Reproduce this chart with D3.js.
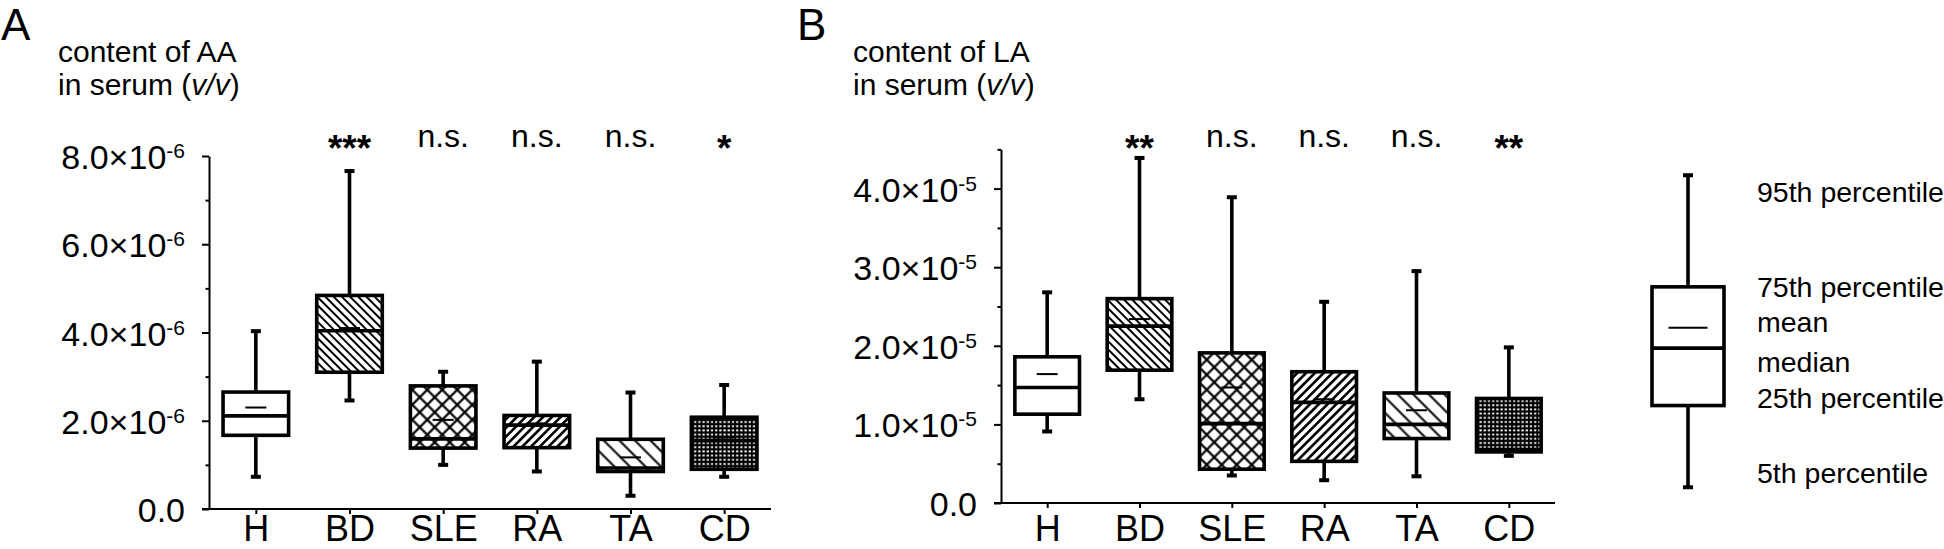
<!DOCTYPE html>
<html lang="en">
<head>
<meta charset="UTF-8">
<script src="https://cdnjs.cloudflare.com/ajax/libs/d3/7.8.5/d3.min.js"></script>
<style>
  body { margin: 0; background: #fff; }
  svg { display: block; font-family: "Liberation Sans", Arial, sans-serif; }
</style>
<title>AA / LA in serum</title>
</head>
<body>
<div id="content"></div>
<script>
    // categories
    const groups = ["H", "BD", "SLE", "RA", "TA", "CD"];
    const fills = ["#fff", "url(#bd)", "url(#sle)", "url(#ra)", "url(#ta)", "url(#cd)"];

    // panel A - AA, values x 1e-6
    const aaP5 = [0.73, 2.46, 1.00, 0.85, 0.30, 0.73];
    const aaP25 = [1.67, 3.10, 1.38, 1.39, 0.85, 0.90];
    const aaMedian = [2.11, 4.04, 1.59, 1.90, 0.93, 1.55];
    const aaMean = [2.30, 4.10, 2.02, 1.94, 1.17, 1.62];
    const aaP75 = [2.65, 4.84, 2.79, 2.12, 1.58, 2.08];
    const aaP95 = [4.03, 7.66, 3.11, 3.34, 2.64, 2.81];
    const aaSig = ["", "***", "n.s.", "n.s.", "n.s.", "*"];
    const aaTicks = [0, 2, 4, 6, 8];
    const aaMinor = [1, 3, 5, 7];

    // panel B - LA, values x 1e-5
    const laP5 = [0.91, 1.32, 0.35, 0.29, 0.34, 0.60];
    const laP25 = [1.13, 1.69, 0.43, 0.53, 0.82, 0.65];
    const laMedian = [1.47, 2.25, 1.01, 1.28, 1.00, 0.68];
    const laMean = [1.64, 2.34, 1.47, 1.32, 1.18, 1.00];
    const laP75 = [1.86, 2.60, 1.91, 1.67, 1.40, 1.33];
    const laP95 = [2.68, 4.39, 3.89, 2.56, 2.95, 1.98];
    const laSig = ["", "**", "n.s.", "n.s.", "n.s.", "**"];
    const laTicks = [0, 1, 2, 3, 4];
    const laMinor = [0.5, 1.5, 2.5, 3.5, 4.5];

    // legend box (drawn on the LA scale, x 1e-5)
    const legendStats = { p5: 0.20, p25: 1.24, median: 1.97, mean: 2.23, p75: 2.75, p95: 4.17 };
    const legendText = ["95th percentile", "75th percentile", "mean", "median", "25th percentile", "5th percentile"];
    const legendAt = [3.83, 2.62, 2.17, 1.67, 1.21, 0.25];

    const width = 1944;
    const height = 549;

    const svg = d3.select("#content")
        .append("svg")
        .attr("width", width)
        .attr("height", height);

    //-Patterns
    const defs = svg.append("defs");
    function hatch(id, angle, gap, sw) {
        const p = defs.append("pattern")
            .attr("id", id)
            .attr("patternUnits", "userSpaceOnUse")
            .attr("width", gap)
            .attr("height", gap)
            .attr("patternTransform", `rotate(${angle})`);
        p.append("rect").attr("width", gap).attr("height", gap).attr("fill", "#fff");
        p.append("line")
            .attr("x1", gap / 2).attr("x2", gap / 2)
            .attr("y1", -1).attr("y2", gap + 1)
            .attr("stroke", "#000")
            .attr("stroke-width", sw);
    }
    hatch("bd", -45, 5.8, 2);
    hatch("ra", 45, 6.2, 2.6);
    hatch("ta", -45, 11, 2);
    const cross = defs.append("pattern")
        .attr("id", "sle")
        .attr("patternUnits", "userSpaceOnUse")
        .attr("width", 10.6).attr("height", 10.6)
        .attr("patternTransform", "rotate(45)");
    cross.append("rect").attr("width", 10.6).attr("height", 10.6).attr("fill", "#fff");
    cross.append("line").attr("x1", 5.3).attr("x2", 5.3).attr("y1", -1).attr("y2", 11.6)
        .attr("stroke", "#000").attr("stroke-width", 2.2);
    cross.append("line").attr("y1", 5.3).attr("y2", 5.3).attr("x1", -1).attr("x2", 11.6)
        .attr("stroke", "#000").attr("stroke-width", 2.2);
    const grid = defs.append("pattern")
        .attr("id", "cd")
        .attr("patternUnits", "userSpaceOnUse")
        .attr("width", 4.2).attr("height", 4.2);
    grid.append("rect").attr("width", 4.2).attr("height", 4.2).attr("fill", "#000");
    grid.append("rect").attr("x", 1.1).attr("y", 1.1).attr("width", 2.2).attr("height", 1.8).attr("fill", "#fff");

    //-Box drawing
    function drawBox(g, cx, bw, y, d, fill, meanW) {
        const sw = 3.6;
        // whiskers
        g.append("line").attr("x1", cx).attr("x2", cx).attr("y1", y(d.p95)).attr("y2", y(d.p75))
            .attr("stroke", "#000").attr("stroke-width", sw);
        g.append("line").attr("x1", cx).attr("x2", cx).attr("y1", y(d.p25)).attr("y2", y(d.p5))
            .attr("stroke", "#000").attr("stroke-width", sw);
        [d.p95, d.p5].forEach(v => {
            g.append("line").attr("x1", cx - 5).attr("x2", cx + 5).attr("y1", y(v)).attr("y2", y(v))
                .attr("stroke", "#000").attr("stroke-width", 4);
        });
        // box
        g.append("rect")
            .attr("x", cx - bw / 2)
            .attr("y", y(d.p75))
            .attr("width", bw)
            .attr("height", y(d.p25) - y(d.p75))
            .attr("fill", fill)
            .attr("stroke", "#000")
            .attr("stroke-width", sw);
        // median
        g.append("line").attr("x1", cx - bw / 2).attr("x2", cx + bw / 2)
            .attr("y1", y(d.median)).attr("y2", y(d.median))
            .attr("stroke", "#000").attr("stroke-width", sw);
        // mean
        g.append("line").attr("x1", cx - meanW / 2).attr("x2", cx + meanW / 2)
            .attr("y1", y(d.mean)).attr("y2", y(d.mean))
            .attr("stroke", "#000").attr("stroke-width", 2);
    }

    function supLabel(sel, main, exp) {
        sel.append("tspan").text(main);
        if (exp) sel.append("tspan").attr("dy", -11).attr("font-size", 21).text(exp);
    }

    //-Panel
    function panel(o) {
        const x = d3.scalePoint().domain(groups).range([o.x0, o.x1]).padding(0.5);
        const y = d3.scaleLinear().domain([0, o.max * o.unit]).range([o.y0, o.y1]);
        const bw = x.step() * 0.7;
        const g = svg.append("g");

        //--Axis Y
        g.append("g")
            .attr("transform", `translate(${o.x0},0)`)
            .call(d3.axisLeft(y).tickValues(o.ticks.map(t => t * o.unit)).tickSize(7).tickSizeOuter(0).tickFormat(""))
            .call(a => a.selectAll("path,line").attr("stroke", "#000").attr("stroke-width", 2));
        g.append("g")
            .attr("transform", `translate(${o.x0},0)`)
            .call(d3.axisLeft(y).tickValues(o.minor.map(t => t * o.unit)).tickSize(3.5).tickFormat(""))
            .call(a => a.select(".domain").remove())
            .call(a => a.selectAll("line").attr("stroke", "#000").attr("stroke-width", 2));
        o.ticks.forEach(t => {
            const txt = g.append("text")
                .attr("x", o.x0 - 24)
                .attr("y", y(t * o.unit) + 13)
                .attr("text-anchor", "end")
                .attr("font-size", 34);
            if (t === 0) supLabel(txt, "0.0");
            else supLabel(txt, t.toFixed(1) + "\u00d710", o.exp);
        });

        //--Axis X
        const xa = g.append("g")
            .attr("transform", `translate(0,${o.y0})`)
            .call(d3.axisBottom(x).tickSize(5).tickSizeOuter(0));
        xa.select(".domain").remove();
        xa.append("line").attr("x1", o.x0 - 7).attr("x2", o.x1).attr("stroke", "#000").attr("stroke-width", 2);
        xa.selectAll(".tick line").attr("stroke", "#000").attr("stroke-width", 2);
        xa.selectAll(".tick text")
            .attr("y", 541 - o.y0).attr("dy", 0)
            .attr("fill", "#000")
            .attr("font-size", 36)
            .attr("font-family", "Liberation Sans, Arial, sans-serif");

        //--Boxes
        groups.forEach((k, i) => {
            const d = {
                p5: o.p5[i] * o.unit, p25: o.p25[i] * o.unit, median: o.median[i] * o.unit,
                mean: o.mean[i] * o.unit, p75: o.p75[i] * o.unit, p95: o.p95[i] * o.unit
            };
            drawBox(g, x(k), bw, y, d, fills[i], 21);
            // significance
            const s = o.sig[i];
            if (s) {
                const star = s.startsWith("*");
                g.append("text")
                    .attr("x", x(k))
                    .attr("y", star ? 161 : 147)
                    .attr("text-anchor", "middle")
                    .attr("font-size", star ? 37 : 32)
                    .attr("font-weight", star ? "bold" : "normal")
                    .text(s);
            }
        });

        //--Titles
        g.append("text").attr("x", o.labelX).attr("y", 40).attr("font-size", 44).text(o.label);
        g.append("text").attr("x", o.titleX).attr("y", 62).attr("font-size", 30).text(o.title);
        const t2 = g.append("text").attr("x", o.titleX).attr("y", 95).attr("font-size", 30);
        t2.append("tspan").text("in serum (");
        t2.append("tspan").attr("font-style", "italic").text("v/v");
        t2.append("tspan").text(")");
        return y;
    }

    panel({
        x0: 209, x1: 771, y0: 509, y1: 156, max: 8, unit: 1e-6, exp: "-6",
        p5: aaP5, p25: aaP25, median: aaMedian, mean: aaMean, p75: aaP75, p95: aaP95,
        sig: aaSig, ticks: aaTicks, minor: aaMinor,
        label: "A", labelX: 1, title: "content of AA", titleX: 58
    });
    const yB = panel({
        x0: 1001, x1: 1555, y0: 503, y1: 149.3, max: 4.5, unit: 1e-5, exp: "-5",
        p5: laP5, p25: laP25, median: laMedian, mean: laMean, p75: laP75, p95: laP95,
        sig: laSig, ticks: laTicks, minor: laMinor,
        label: "B", labelX: 797, title: "content of LA", titleX: 853
    });

    //-Legend
    const lg = svg.append("g").attr("id", "legend");
    const ld = {};
    Object.keys(legendStats).forEach(k => ld[k] = legendStats[k] * 1e-5);
    drawBox(lg, 1688, 72, yB, ld, "#fff", 39);
    legendText.forEach((t, i) => {
        lg.append("text")
            .attr("x", 1757)
            .attr("y", yB(legendAt[i] * 1e-5))
            .attr("font-size", 28.5)
            .text(t);
    });
</script>
</body>
</html>
